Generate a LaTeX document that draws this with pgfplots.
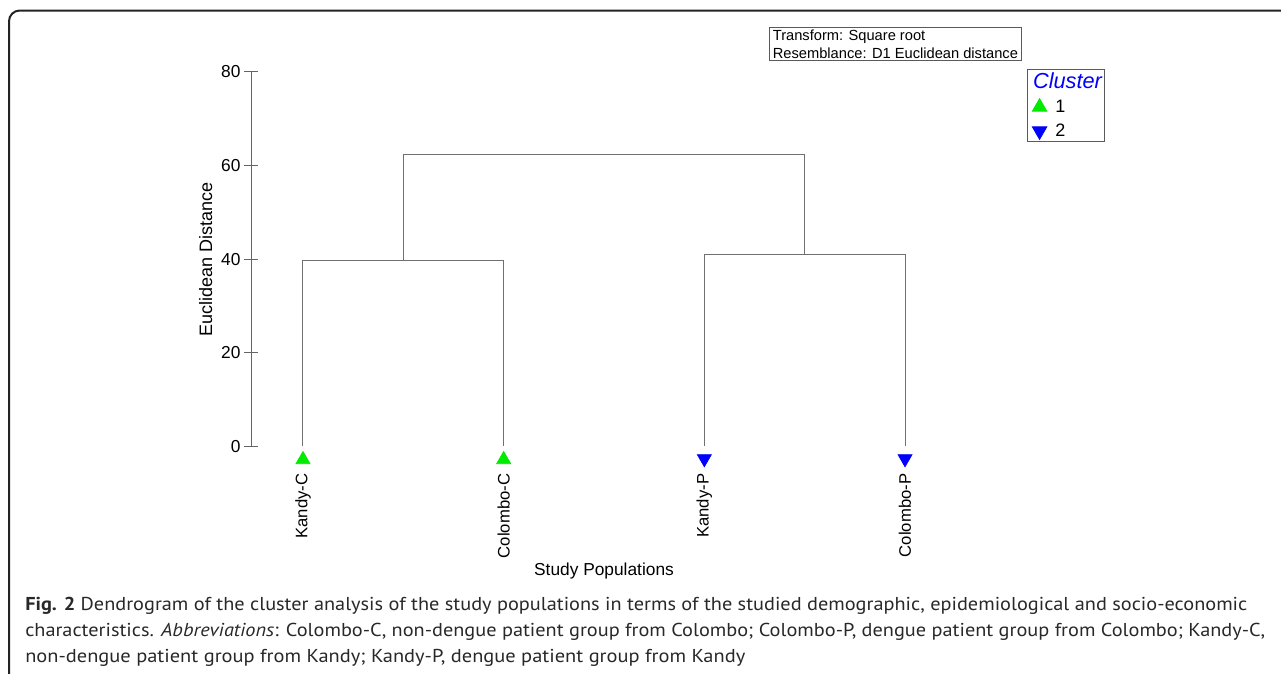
\documentclass[border=0pt]{standalone}
\usepackage{pgfplots}
\pgfplotsset{compat=1.18}
\usepackage{fontspec}
\setmainfont{Liberation Sans}
\newfontfamily\capfont{PT Sans}
\definecolor{linegray}{RGB}{112,112,112}
\definecolor{axisgray}{RGB}{100,100,100}
\definecolor{mygreen}{RGB}{0,235,0}
\definecolor{myblue}{RGB}{0,0,255}
\definecolor{capgray}{RGB}{40,40,40}
\definecolor{framecol}{RGB}{35,35,35}
\definecolor{boxgray}{RGB}{90,90,90}
\begin{document}
\begin{tikzpicture}
\path[use as bounding box] (0,0) rectangle (960.75pt,505.5pt);
\begin{scope}
\clip (0,0) rectangle (960.75pt,505.5pt);
\draw[framecol, line width=1.5pt, rounded corners=8pt] (6.75pt,497.6pt) rectangle (990pt,-20pt);
\end{scope}
\begin{axis}[
  at={(188.25pt,170.625pt)}, anchor=south west,
  scale only axis, width=529.5pt, height=280.875pt,
  xmin=0.741, xmax=4.259, ymin=0, ymax=80,
  clip=false,
  axis y line*=left, axis x line*=bottom,
  x axis line style={draw=none},
  y axis line style={draw=axisgray, line width=0.75pt},
  xtick={1,2,3,4},
  xticklabels={Kandy-C,Colombo-C,Kandy-P,Colombo-P},
  xtick style={draw=none},
  xticklabel style={rotate=90, anchor=east, inner sep=0pt, font=\fontsize{12.5}{15}\selectfont},
  xticklabel shift=15pt,
  ytick={0,20,40,60,80},
  ytick style={draw=axisgray, line width=0.75pt},
  tick align=center, major tick length=10.5pt,
  yticklabel style={inner sep=0pt, font=\fontsize{13}{15}\selectfont},
  yticklabel shift=2.5pt,
  /pgf/number format/assume math mode=true,
  xlabel={Study Populations},
  ylabel={Euclidean Distance},
  every axis x label/.style={at={([yshift=-96.4pt]axis description cs:0.5,0)}, anchor=base, font=\fontsize{13}{15}\selectfont},
  every axis y label/.style={at={([xshift=-29.25pt]axis description cs:0,0.5)}, anchor=base, rotate=90, font=\fontsize{13.5}{15}\selectfont},
  legend style={at={(axis description cs:1.0992,1.008)}, anchor=north west, draw=boxgray, line width=0.75pt,
     font=\fontsize{13.5}{16}\selectfont, inner xsep=0.5pt, inner ysep=1pt, row sep=4pt, column sep=5pt,
     nodes={inner sep=1.5pt}},
  legend cell align=left,
]
\addlegendimage{empty legend}
\addlegendentry{\hspace*{-16.75pt}\textcolor{myblue}{\fontsize{16.3}{18}\selectfont\itshape Cluster}}
\addplot[linegray, line width=0.75pt, forget plot] coordinates {(1,0) (1,39.8) (2,39.8) (2,0)};
\addplot[linegray, line width=0.75pt, forget plot] coordinates {(3,0) (3,41.1) (4,41.1) (4,0)};
\addplot[linegray, line width=0.75pt, forget plot] coordinates {(1.5,39.8) (1.5,62.3) (3.5,62.3) (3.5,41.1)};
\addplot[only marks, color=mygreen, mark=triangle*, mark size=6.2pt, mark options={draw=mygreen, fill=mygreen}] coordinates {(1,-2.8) (2,-2.8)};
\addlegendentry{1}
\addplot[only marks, color=myblue, mark=triangle*, mark size=6.2pt, mark options={rotate=180, draw=myblue, fill=myblue}] coordinates {(3,-2.6) (4,-2.6)};
\addlegendentry{2}
\end{axis}
\node[draw=boxgray, line width=0.75pt, anchor=north west, inner xsep=2.5pt, inner ysep=1.5pt, align=left, font=\fontsize{11}{13.5}\selectfont] at (576.75pt,485.25pt) {Transform: Square root\\Resemblance: D1 Euclidean distance};
\begin{scope}[every node/.style={anchor=base west, inner sep=0pt, text=capgray, font=\capfont\fontsize{14}{18}\selectfont}]
\node at (18.75pt,47.25pt) {\resizebox{916.5pt}{\height}{\textbf{Fig. 2} Dendrogram of the cluster analysis of the study populations in terms of the studied demographic, epidemiological and socio-economic}};
\node at (18.75pt,27.75pt) {\resizebox{930pt}{\height}{characteristics. \textit{Abbreviations}: Colombo-C, non-dengue patient group from Colombo; Colombo-P, dengue patient group from Colombo; Kandy-C,}};
\node at (18.75pt,8.25pt) {\resizebox{540pt}{\height}{non-dengue patient group from Kandy; Kandy-P, dengue patient group from Kandy}};
\end{scope}
\end{tikzpicture}
\end{document}
